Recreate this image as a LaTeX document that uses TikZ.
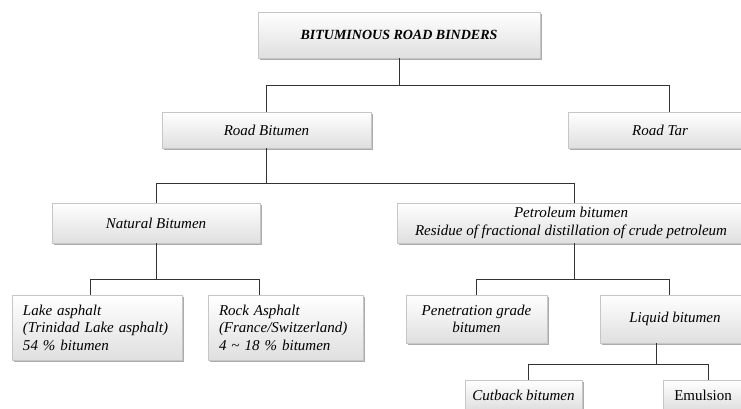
\documentclass[tikz,border=0pt]{standalone}
\usepackage{fontspec}
\setmainfont{Liberation Serif}
\usetikzlibrary{shadows}
\tikzset{
  binder/.style={draw=gray!45, top color=white, bottom color=gray!25,
    drop shadow={shadow xshift=1.5pt, shadow yshift=-2.5pt, fill=gray!65, opacity=1},
    font=\fontsize{15}{17.5}\selectfont\itshape, inner sep=0pt, align=center},
  link/.style={draw=black!80, line width=0.8pt},
}
\begin{document}
\begin{tikzpicture}[x=1pt,y=1pt]
        \useasboundingbox (0,0) rectangle (741,409);
        \clip (0,0) rectangle (741,409);
        % boxes
        \node[binder, minimum width=282pt, minimum height=46pt, font=\fontsize{14}{17}\selectfont\bfseries\itshape] (binders) at (399,374) {BITUMINOUS ROAD BINDERS};
        \node[binder, minimum width=209pt, minimum height=36pt] (roadbit) at (266.5,279) {Road Bitumen};
        \node[binder, minimum width=184pt, minimum height=36pt] (roadtar) at (660,279) {Road Tar};
        \node[binder, minimum width=208pt, minimum height=40pt] (natural) at (156,186) {Natural Bitumen};
        \node[binder, minimum width=348pt, minimum height=40pt] (petrol) at (571,186) {Petroleum bitumen\\Residue of fractional distillation of crude petroleum};
        \node[binder, minimum width=170pt, minimum height=65pt, text width=148pt, align=left] (lake) at (97,81.5) {Lake asphalt\\(Trinidad Lake asphalt)\\54 \% bitumen};
        \node[binder, minimum width=155pt, minimum height=65pt, text width=133pt, align=left] (rock) at (285.5,81.5) {Rock Asphalt\\(France/Switzerland)\\4 \textasciitilde{} 18 \% bitumen};
        \node[binder, minimum width=141pt, minimum height=48pt] (pengrade) at (476.5,90) {Penetration grade\\bitumen};
        \node[binder, minimum width=150pt, minimum height=48pt] (liquid) at (675,90) {Liquid bitumen};
        \node[binder, minimum width=117pt, minimum height=30pt] (cutback) at (523.5,14) {Cutback bitumen};
        \node[binder, minimum width=80pt, minimum height=30pt, font=\fontsize{15}{17.5}\selectfont\upshape] (emulsion) at (703,14) {Emulsion};
        % connectors
        \draw[link] (binders.south) -- ++(0,-27) -| (roadbit.north);
        \draw[link] (binders.south) ++(0,-27) -| ([xshift=9pt]roadtar.north);
        \draw[link] (roadbit.south) -- ++(0,-35) -| (natural.north);
        \draw[link] (roadbit.south) ++(0,-35) -| ([xshift=3pt]petrol.north);
        \draw[link] (natural.south) -- ++(0,-36) -| ([xshift=-7pt]lake.north);
        \draw[link] (natural.south) ++(0,-36) -| ([xshift=-26.5pt]rock.north);
        \draw[link] ([xshift=3pt]petrol.south) -- ++(0,-36) -| (pengrade.north);
        \draw[link] ([xshift=3pt]petrol.south) ++(0,-36) -| ([xshift=-6pt]liquid.north);
        \draw[link] ([xshift=-19pt]liquid.south) -- ++(0,-21) -| ([xshift=4.5pt]cutback.north);
        \draw[link] ([xshift=-19pt]liquid.south) ++(0,-21) -| ([xshift=5pt]emulsion.north);
\end{tikzpicture}
\end{document}
